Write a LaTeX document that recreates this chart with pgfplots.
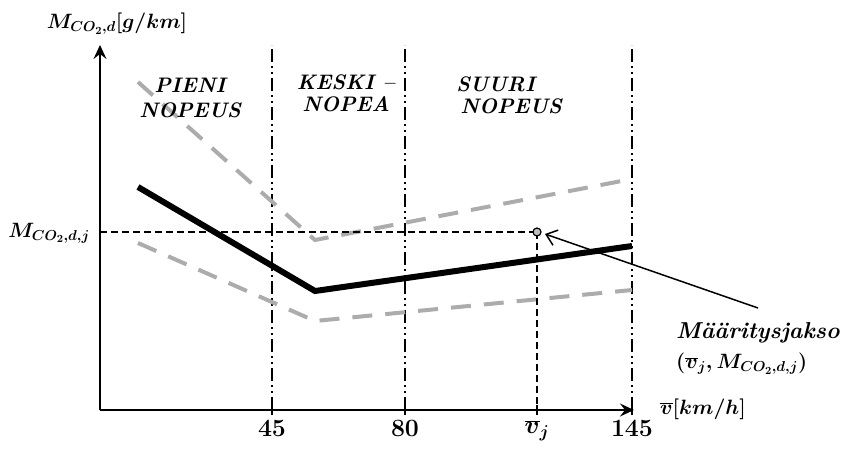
\documentclass[border=0pt]{standalone}
\usepackage{pgfplots}
\pgfplotsset{compat=1.18}
\usetikzlibrary{arrows.meta}
\begin{document}
\begin{tikzpicture}
\begin{axis}[
  x=1pt, y=1pt,
  xmin=100, xmax=634, ymin=40, ymax=405,
  axis lines=left,
  axis line style={line width=1.5pt, -{Stealth[length=14pt,width=13pt,inset=5pt]}},
  clip=false,
  xtick={272,405,537,632},
  xticklabels={$45$,$80$,$\overline{v}_j$,$145$},
  ytick={218}, yticklabels={},
  major tick length=10pt,
  ytick style={draw=none},
  xtick style={line width=1.2pt,black},
  tick label style={font=\fontsize{23}{26}\selectfont\boldmath},
  xticklabel style={yshift=-2pt},
]
% region boundaries
\addplot[black, line width=1.6pt, dash pattern=on 13pt off 4pt on 2pt off 4pt on 2pt off 4pt] coordinates {(272,40) (272,405)};
\addplot[black, line width=1.6pt, dash pattern=on 13pt off 4pt on 2pt off 4pt on 2pt off 4pt] coordinates {(405,40) (405,405)};
\addplot[black, line width=1.6pt, dash pattern=on 13pt off 4pt on 2pt off 4pt on 2pt off 4pt] coordinates {(632,40) (632,405)};
% grey envelopes
\addplot[gray!65, line width=4pt, dash pattern=on 20pt off 13pt] coordinates {(138,368) (315,210) (632,271)};
\addplot[gray!65, line width=4pt, dash pattern=on 20pt off 13pt] coordinates {(138,207) (315,129) (632,160)};
% reference line
\addplot[black, line width=6pt] coordinates {(138,263) (315,159) (632,204)};
% chosen point
\addplot[black, line width=1.6pt, dash pattern=on 7pt off 4pt] coordinates {(100,218) (537,218)};
\addplot[black, line width=1.6pt, dash pattern=on 7pt off 4pt] coordinates {(537,218) (537,40)};
\addplot[only marks, mark=*, mark size=4pt, mark options={fill=gray!50, draw=black, line width=1.2pt}] coordinates {(537,218)};
% annotation
\draw[line width=1.5pt, -{Straight Barb[length=10pt,width=16pt]}] (axis cs:758,142) -- (axis cs:545,216);
\node[anchor=west, inner sep=0pt, font=\fontsize{23}{26}\selectfont\bfseries\itshape] at (axis cs:676,117) {Määritysjakso};
\node[anchor=west, inner sep=0pt, font=\fontsize{22}{26}\selectfont\boldmath] at (axis cs:676,86) {$\left(\overline{v}_j, M_{CO_2,d,j}\right)$};
% labels
\node[font=\fontsize{22}{26}\selectfont\boldmath] at (axis cs:117,426) {$M_{CO_2,d}[g/km]$};
\node[font=\fontsize{22}{26}\selectfont\boldmath] at (axis cs:49,217) {$M_{CO_2,d,j}$};
\node[font=\fontsize{22}{26}\selectfont\boldmath] at (axis cs:703,41) {$\overline{v}[km/h]$};
\node[align=center, font=\fontsize{21}{25}\selectfont\bfseries\itshape] at (axis cs:190,352) {PIENI\\NOPEUS};
\node[align=center, font=\fontsize{21}{22}\selectfont\bfseries\itshape] at (axis cs:346,357) {KESKI --\\NOPEA};
\node[align=left, font=\fontsize{21}{22}\selectfont\bfseries\itshape] at (axis cs:509,355) {SUURI\\\hspace*{4pt}NOPEUS};
% page extent
\path (axis cs:0,0) rectangle (axis cs:845,450);
\end{axis}
\end{tikzpicture}
\end{document}
